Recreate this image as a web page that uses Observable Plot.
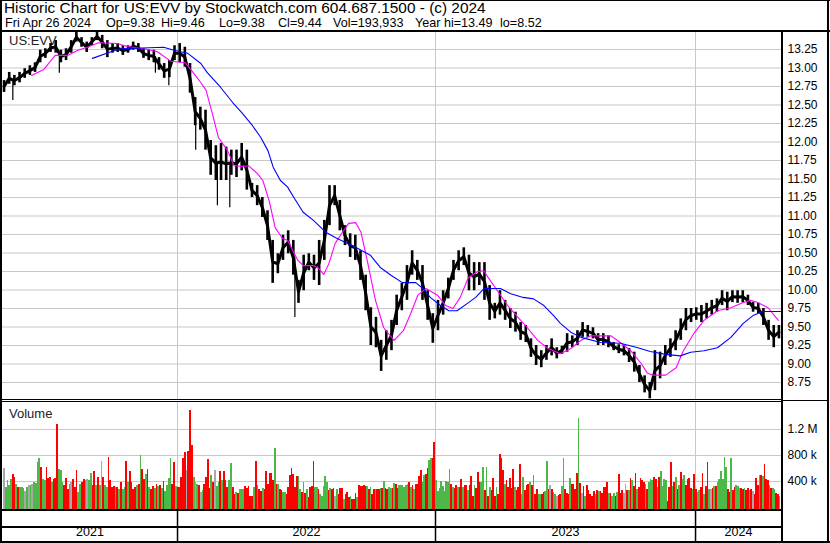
<!DOCTYPE html>
<html><head><meta charset="utf-8">
<script src="https://cdn.jsdelivr.net/npm/d3@7"></script>
<script src="https://cdn.jsdelivr.net/npm/@observablehq/plot@0.6"></script>
<style>
html,body{margin:0;padding:0;background:#fff;}
#wrap{position:relative;width:830px;height:543px;overflow:hidden;font-family:"Liberation Sans",Arial,sans-serif;color:#000;background:#fff;}
.ln{position:absolute;background:#000;z-index:5;}
.hdr{position:absolute;white-space:pre;}
.lbl{position:absolute;left:9px;font-size:13px;color:#222;z-index:0;}
.pp{position:absolute;left:0;z-index:2;}
</style></head><body>
<div id="wrap">
  <div class="hdr" style="left:4px;top:0px;font-size:15.4px;line-height:16px">Historic Chart for US:EVV by Stockwatch.com 604.687.1500 - (c) 2024</div>
  <div id="hdr2"></div>
  <div class="lbl" style="top:33px">US:EVV</div>
  <div class="lbl" style="top:406px">Volume</div>
  <div id="price" class="pp" style="top:31px"></div>
  <div id="vol" class="pp" style="top:402px"></div>
  <div id="years" class="pp" style="top:509px"></div>
  <div class="ln" style="left:0;top:0;width:830px;height:1px"></div>
  <div class="ln" style="left:0;top:30px;width:830px;height:2px"></div>
  <div class="ln" style="left:0;top:0;width:2px;height:543px"></div>
  <div class="ln" style="left:827px;top:0;width:2px;height:543px"></div>
  <div class="ln" style="left:781px;top:31px;width:2px;height:512px"></div>
  <div class="ln" style="left:0;top:399px;width:781px;height:1px"></div>
  <div class="ln" style="left:0;top:401px;width:781px;height:1px"></div>
  <div class="ln" style="left:783px;top:400px;width:45px;height:1px"></div>
  <div class="ln" style="left:0;top:509px;width:783px;height:2px"></div>
  <div class="ln" style="left:0;top:526px;width:783px;height:2px"></div>
  <div class="ln" style="left:0;top:541px;width:830px;height:2px"></div>
</div>
<script>
// ---- header quote fields ----
const quoteFields = ["Fri Apr 26 2024", "Op=9.38", "Hi=9.46", "Lo=9.38", "Cl=9.44", "Vol=193,933", "Year hi=13.49", "lo=8.52"];
const quoteLeft = [5, 106, 161, 219, 278, 333, 415, 500];

// ---- trading-day index: 1 = late Apr 2021, 755 = Apr 26 2024 ----
const dayDomain = [1, 755];
const yearBounds = [1, 170.4, 420.1, 671.8, 755];
const yearLabels = ["2021", "2022", "2023", "2024"];

// weekly price ranges (week w covers trading days 5w..5w+5)
const hiW = [12.83,12.94,12.90,12.94,12.99,13.03,13.07,13.24,13.26,13.33,
13.37,13.24,13.26,13.37,13.48,13.41,13.35,13.41,13.48,13.44,
13.37,13.33,13.33,13.30,13.30,13.35,13.33,13.26,13.24,13.24,
13.14,13.06,13.10,13.30,13.33,13.28,13.06,12.60,12.47,12.43,
12.02,11.95,11.98,11.93,11.89,11.89,11.98,11.89,11.44,11.41,
11.25,11.07,10.67,10.49,10.74,10.80,10.67,10.13,10.47,10.49,
10.47,10.67,10.94,11.41,11.41,11.21,10.87,10.76,10.74,10.53,
10.20,9.76,9.63,9.32,9.45,9.59,9.93,10.09,10.33,10.53,
10.40,10.33,9.99,9.68,9.86,9.99,10.16,10.40,10.53,10.57,
10.47,10.37,10.37,10.37,10.06,9.82,9.99,9.86,9.75,9.70,
9.56,9.52,9.34,9.25,9.18,9.25,9.34,9.22,9.24,9.41,
9.38,9.45,9.56,9.52,9.49,9.41,9.41,9.38,9.29,9.26,
9.25,9.21,9.16,8.98,8.84,8.75,9.18,9.16,9.25,9.34,
9.45,9.61,9.75,9.75,9.76,9.79,9.82,9.86,9.88,9.99,
9.97,9.99,9.99,9.99,9.93,9.83,9.82,9.75,9.59,9.52,
9.52];
const loW = [12.67,12.78,12.76,12.80,12.86,12.90,12.94,13.07,13.13,13.21,
13.20,13.07,13.10,13.20,13.35,13.28,13.21,13.30,13.37,13.26,
13.14,13.20,13.21,13.17,13.20,13.24,13.21,13.13,13.10,13.07,
12.97,12.86,12.87,13.10,13.07,13.01,12.66,12.22,12.16,11.89,
11.55,11.48,11.48,11.48,11.55,11.52,11.61,11.35,11.25,11.14,
10.98,10.67,10.09,10.22,10.40,10.49,10.20,9.82,9.99,10.26,
10.13,10.06,10.40,10.87,11.14,10.80,10.60,10.44,10.40,10.13,
9.72,9.25,9.22,8.90,9.05,9.18,9.52,9.72,9.86,10.20,
10.13,9.86,9.59,9.28,9.45,9.66,9.88,10.13,10.26,10.33,
9.99,9.99,10.06,9.86,9.59,9.61,9.66,9.59,9.48,9.43,
9.32,9.29,9.09,8.98,8.95,9.05,9.11,9.07,9.13,9.16,
9.22,9.25,9.36,9.36,9.34,9.25,9.25,9.22,9.18,9.14,
9.11,9.02,8.89,8.75,8.61,8.53,8.64,8.80,8.98,9.09,
9.18,9.32,9.45,9.56,9.59,9.56,9.61,9.66,9.70,9.79,
9.72,9.83,9.82,9.83,9.79,9.70,9.68,9.52,9.32,9.22,
9.34];

// single-day down spikes
const spikeDay = [11, 56, 149, 162, 188, 209, 221, 284];
const spikeLow = [12.56, 12.93, 12.93, 12.76, 11.89, 11.14, 11.11, 9.63];

// moving averages
const magDay = [29,41,52,64,74,83,94,112,122,138,151,164,178,186,193,198,204,210,219,225,
234,239,248,253,259,265,272,277,282,287,292,302,307,312,317,323,330,336,343,348,
354,362,370,380,389,396,403,411,422,430,437,444,452,461,467,471,480,490,500,509,
519,529,541,551,561,570,590,599,609,619,625,630,643,653,660,670,680,693,706,718,
725,732,742,752];
const magVal = [12.90,12.98,13.17,13.17,13.24,13.28,13.34,13.33,13.29,13.26,13.22,13.09,13.07,12.93,12.80,12.70,12.39,12.06,11.88,11.68,
11.67,11.68,11.57,11.48,11.21,10.84,10.70,10.67,10.53,10.40,10.33,10.33,10.29,10.21,10.36,10.63,10.78,10.90,10.91,10.78,
10.40,9.86,9.49,9.32,9.45,9.68,9.93,10.02,9.93,9.79,9.75,9.90,10.17,10.25,10.26,10.17,9.99,9.79,9.63,9.49,
9.32,9.21,9.14,9.21,9.32,9.38,9.38,9.29,9.18,9.01,8.88,8.85,8.85,8.95,9.18,9.41,9.59,9.72,9.76,9.83,
9.86,9.83,9.76,9.59];
const blueDay = [88,106,115,157,167,180,193,199,212,224,233,243,251,258,263,270,277,283,292,302,
314,323,335,345,357,367,377,388,401,408,415,425,433,441,451,459,467,483,493,505,
515,525,534,541,551,561,580,599,616,628,643,657,667,680,693,706,718,728,737,754];
const blueVal = [13.13,13.22,13.26,13.28,13.24,13.20,13.06,12.94,12.74,12.53,12.39,12.22,12.06,11.88,11.66,11.48,11.39,11.25,11.05,10.94,
10.78,10.71,10.63,10.56,10.47,10.30,10.20,10.10,10.10,10.02,9.90,9.79,9.72,9.72,9.82,9.90,10.02,10.02,9.95,9.90,
9.88,9.79,9.66,9.55,9.43,9.36,9.29,9.28,9.22,9.17,9.13,9.11,9.16,9.18,9.22,9.36,9.55,9.66,9.71,9.71];

const priceTicks = [8.75,9.00,9.25,9.50,9.75,10.00,10.25,10.50,10.75,11.00,11.25,11.50,11.75,12.00,12.25,12.50,12.75,13.00,13.25];

// volume (thousands), in three date spans; g = up, r = down, n = unchanged
const volSpans = [[2, 259.4], [259.4, 514.5], [514.5, 754.5]];
const volA = [607,306,410,332,436,514,462,350,300,306,306,291,
239,306,332,343,348,384,374,685,747,618,
436,420,618,446,462,384,436,446,1277,592,
566,384,332,452,270,358,384,436,306,566,
228,358,384,436,410,436,410,529,332,550,
343,462,332,706,462,343,306,773,410,306,
330,300,306,280,384,280,306,706,384,550,384,280,
306,343,358,799,592,436,514,592,306,270,320,290,350,
322,343,291,400,239,343,446,758,358,685,
322,306,306,462,747,851,566,861,1490,955,
462,384,358,343,228,254,358,462,732,291,
488,384,566,322,384,550,410,550,410,306,
410,670,306,202,228,213,280,280,280,322,
291,322,176,176,306,706,332,280,239,291,
280,550,358];
const dirA = ["nggggrrgrggg","ngngnggggr","ggrrrgrrrg","ggrrrgnrrr","ggrrgnggrr","grgnrggrrr",
"rgrgrggrgrrr","rgrgrrgrgrrgr","grgrggggrr","grrrrrnrrr","gngrngrrrr","grnggrgrrr","ggrrgrgggr","rrrrgrgrrg","rrr"].join("");
const volB = [529,529,420,903,358,358,280,254,228,228,
202,306,488,607,514,306,477,477,280,228,
384,213,280,151,306,322,706,306,306,280,
202,176,322,472,384,254,291,280,291,166,
270,202,291,291,125,202,228,161,176,125,
125,218,151,332,322,322,332,322,322,280,
306,202,280,280,280,280,291,291,394,291,
270,301,291,291,374,348,291,343,332,332,
306,343,358,384,306,343,280,358,358,477,
566,384,488,514,602,721,758,758,996,
410,239,291,394,322,239,405,384,592,358,
306,291,343,306,306,436,306,332,332,254,
343,472,176,332,291,540,384,384,618,254,
618,176,306,254,446,176,306,202,809,747,
566,358,410,306,446,291,581,306,254,306,
654,202,462,254,332,358,384,332];
const dirB = ["rr","rg","rg","rr","gg","rr","rr","rr","rg","gr",
"gr","gr","rr","rg","gr","gg","gg","gr","gr","rn",
"gr","rr","gr","rr","gr","rr","gr","rr","rr","gr",
"gr","rg","rr","gr","gr","rg","gr","gr","rg","gg",
"gg","gr","gr","gr","rr","rg","gr","rg","gr","r",
"gg","gg","gg","gg","gr","gr","rg","rr","gr","rg",
"rr","rg","rr","rg","gr","gr","gr","rr","gr","rr",
"rg","rr","rr","rg","rr","rg","gr","rr","gr"].join("");
const volC = [488,202,270,202,202,202,228,239,706,280,
343,280,228,202,176,187,202,322,758,280,
218,202,446,358,358,280,529,1370,
374,218,322,176,332,254,202,176,239,202,
254,249,249,218,306,306,384,218,218,176,
218,166,228,514,218,254,218,353,254,254,
446,410,322,529,280,306,446,420,384,358,
280,384,436,420,457,436,306,462,561,322,
436,410,99,306,685,322,384,462,280,343,
540,436,488,332,436,446,291,280,509,280,
228,254,306,524,202,322,685,280,280,291,
317,322,384,436,550,436,773,618,280,228,
758,254,306,343,322,291,291,280,291,254,
291,254,280,239,202,446,332,498,488,477,
654,436,420,332,291,291,280,218,202,176];
const dirC = ["gr","rg","gr","rg","gr","nr","gg","nr","rg","gr",
"rr","gr","rr","r","g",
"rn","rg","rr","rr","rg","rg","rr","rr","rg","rg",
"gr","gr","rr","nn","rg","rg","rr","gr","rr","rg",
"rg","gg","rr","gr","gg","gg","rr","rg","rg","rg",
"rg","gr","rr","rg","rr","gg","rr","gr","rg","nr",
"gr","gg","gg","gg","rr","gr","rg","gg","rr","gr",
"rg","rn","rr","rg","rg","rr","rg","rg","gr","rg"].join("");
const volTicks = [400, 800, 1200];
const volTickLabels = ["400 k", "800 k", "1.2 M"];

// ---- header line 2 ----
const h2 = document.getElementById("hdr2");
quoteFields.forEach((t, i) => {
  const s = document.createElement("div");
  s.className = "hdr";
  s.style.cssText = `left:${quoteLeft[i]}px;top:16px;font-size:12.6px;line-height:15px`;
  s.textContent = t;
  h2.appendChild(s);
});

// ---- build tables ----
const weeks = hiW.map((h, i) => ({d: 5 * i + 2.5, hi: h, lo: loW[i], mid: (h + loW[i]) / 2}));
const spikes = spikeDay.map((d, i) => {
  const w = Math.min(hiW.length - 1, Math.floor(d / 5));
  return {d, lo: spikeLow[i], top: (hiW[w] + loW[w]) / 2};
});
const mag = magDay.map((d, i) => ({d, v: magVal[i]}));
const blu = blueDay.map((d, i) => ({d, v: blueVal[i]}));
const colorOf = {g: "#4cb848", r: "#ff0000", n: "#a8a8a8"};
const volRows = [];
[[volA, dirA], [volB, dirB], [volC, dirC]].forEach(([vals, dirs], s) => {
  const [a, b] = volSpans[s];
  const step = (b - a) / vals.length;
  vals.forEach((v, i) => volRows.push({x1: a + i * step, x2: a + (i + 1) * step, v, c: colorOf[dirs[i] || "g"]}));
});
const yearRows = yearLabels.map((t, i) => ({t, mid: (yearBounds[i] + yearBounds[i + 1]) / 2}));
const yearStarts = yearBounds.slice(1, -1);

const font = "'Liberation Sans', Arial, sans-serif";
const baseStyle = {fontFamily: font, fontSize: "12px", color: "#000", background: "transparent", overflow: "visible"};

const price = Plot.plot({
  width: 830, height: 369, marginLeft: 2, marginRight: 49, marginTop: 0, marginBottom: 0,
  style: baseStyle,
  x: {domain: dayDomain, axis: null},
  y: {domain: [8.507, 13.493], axis: "right", ticks: priceTicks, tickFormat: d => d.toFixed(2), tickSize: 0, tickPadding: 6, label: null},
  marks: [
    Plot.ruleY(priceTicks, {stroke: "#c8c8c8"}),
    Plot.ruleX(yearStarts, {stroke: "#c8c8c8"}),
    Plot.line(weeks, {x: "d", y: "mid", stroke: "#000", strokeWidth: 3, curve: "linear"}),
    Plot.ruleX(weeks, {x: "d", y1: "lo", y2: "hi", stroke: "#000", strokeWidth: 2.6}),
    Plot.ruleX(spikes, {x: "d", y1: "lo", y2: "top", stroke: "#000", strokeWidth: 1.2}),
    Plot.line(mag, {x: "d", y: "v", stroke: "#ff00ff", strokeWidth: 1.1}),
    Plot.line(blu, {x: "d", y: "v", stroke: "#0000ff", strokeWidth: 1.1})
  ]
});
document.getElementById("price").appendChild(price);

const vol = Plot.plot({
  width: 830, height: 107, marginLeft: 2, marginRight: 49, marginTop: 0, marginBottom: 0,
  style: baseStyle,
  x: {domain: dayDomain, axis: null},
  y: {domain: [-31, 1615], axis: "right", ticks: volTicks, tickFormat: d => volTickLabels[volTicks.indexOf(d)], tickSize: 0, tickPadding: 6, label: null},
  color: {type: "identity"},
  marks: [
    Plot.ruleY(volTicks, {stroke: "#c8c8c8"}),
    Plot.ruleX(yearStarts, {stroke: "#c8c8c8"}),
    Plot.rect(volRows, {x1: "x1", x2: "x2", y1: 0, y2: "v", fill: "c", insetBottom: -2, shapeRendering: "crispEdges"})
  ]
});
document.getElementById("vol").appendChild(vol);

const yrs = Plot.plot({
  width: 830, height: 34, marginLeft: 2, marginRight: 49, marginTop: 0, marginBottom: 0,
  style: baseStyle,
  x: {domain: dayDomain, axis: null},
  marks: [
    Plot.ruleX(yearStarts, {stroke: "#000", strokeWidth: 1.5}),
    Plot.text(yearRows, {x: "mid", text: "t", frameAnchor: "bottom", dy: -8, fontSize: 12.5, fill: "#000"})
  ]
});
document.getElementById("years").appendChild(yrs);
</script>
</body></html>
